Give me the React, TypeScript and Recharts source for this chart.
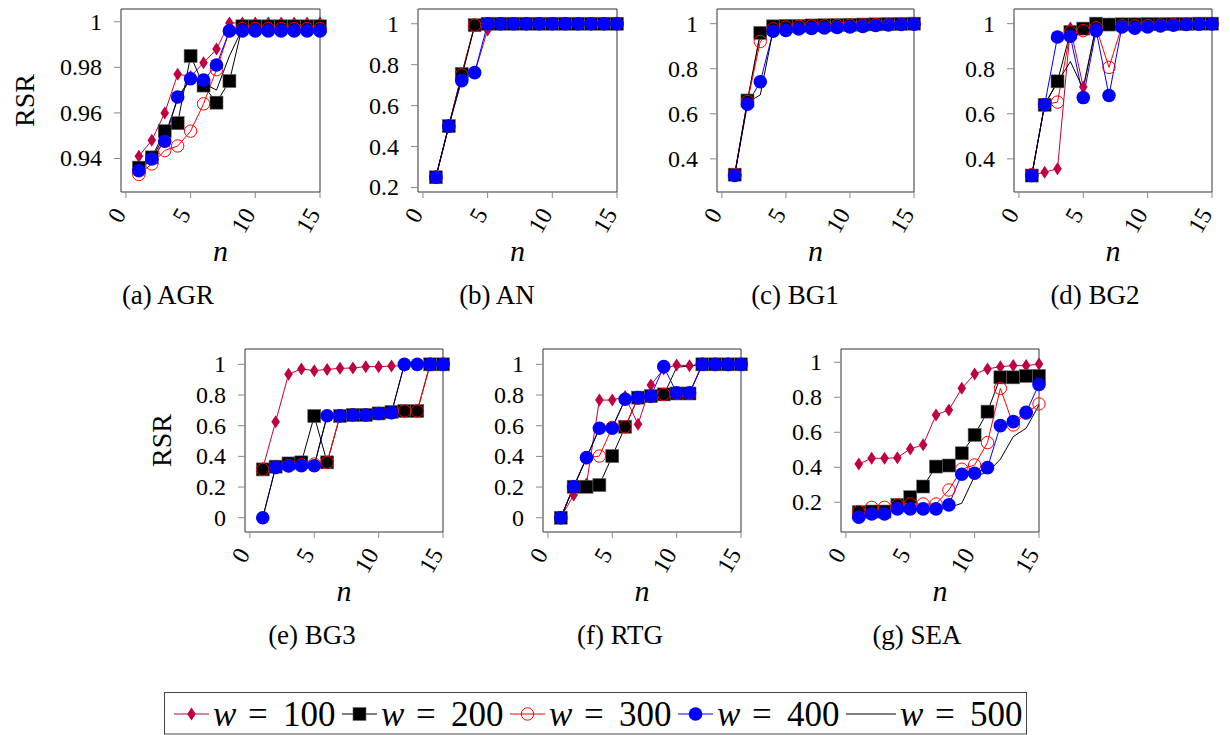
import React from 'react';
import { LineChart, Line, XAxis, YAxis, ReferenceArea } from 'recharts';

const FONT = '"Liberation Serif", "Times New Roman", serif';

const nValues = [1, 2, 3, 4, 5, 6, 7, 8, 9, 10, 11, 12, 13, 14, 15];
const xTicks = [0, 5, 10, 15];
const xDomain = [-0.38, 15];

// (a) AGR
const agrW100 = [0.941, 0.948, 0.96, 0.977, 0.976, 0.982, 0.988, 0.9995, 0.9995, 0.9995, 0.9995, 0.9995, 0.9995, 0.9995, 0.9995];
const agrW200 = [0.936, 0.9405, 0.952, 0.9555, 0.985, 0.972, 0.9645, 0.974, 0.998, 0.998, 0.998, 0.998, 0.998, 0.998, 0.998];
const agrW300 = [0.933, 0.9376, 0.9435, 0.9455, 0.952, 0.964, 0.979, 0.996, 0.997, 0.997, 0.997, 0.997, 0.997, 0.997, 0.997];
const agrW400 = [0.9347, 0.9398, 0.9476, 0.967, 0.975, 0.9744, 0.981, 0.996, 0.996, 0.996, 0.996, 0.996, 0.996, 0.996, 0.996];
const agrW500 = [0.935, 0.94, 0.95, 0.966, 0.975, 0.973, 0.97, 0.985, 0.997, 0.997, 0.997, 0.997, 0.997, 0.997, 0.997];

// (b) AN
const anW100 = [0.25, 0.5, 0.745, 0.76, 0.97, 1, 1, 1, 1, 1, 1, 1, 1, 1, 1];
const anW200 = [0.25, 0.5, 0.755, 0.993, 1, 1, 1, 1, 1, 1, 1, 1, 1, 1, 1];
const anW300 = [0.25, 0.5, 0.75, 0.993, 1, 1, 1, 1, 1, 1, 1, 1, 1, 1, 1];
const anW400 = [0.25, 0.5, 0.722, 0.761, 1, 1, 1, 1, 1, 1, 1, 1, 1, 1, 1];
const anW500 = [0.25, 0.5, 0.74, 0.99, 1, 1, 1, 1, 1, 1, 1, 1, 1, 1, 1];

// (c) BG1
const bg1W100 = [0.33, 0.66, 0.955, 0.988, 0.99, 0.992, 0.993, 0.994, 0.995, 0.996, 0.997, 0.998, 0.999, 1, 1];
const bg1W200 = [0.33, 0.659, 0.959, 0.988, 0.99, 0.99, 0.992, 0.993, 0.994, 0.995, 0.996, 0.997, 0.998, 0.999, 1];
const bg1W300 = [0.33, 0.655, 0.921, 0.977, 0.985, 0.988, 0.99, 0.991, 0.992, 0.993, 0.994, 0.996, 0.997, 0.998, 0.999];
const bg1W400 = [0.326, 0.643, 0.742, 0.966, 0.97, 0.976, 0.979, 0.981, 0.983, 0.985, 0.988, 0.992, 0.994, 0.996, 0.998];
const bg1W500 = [0.33, 0.65, 0.684, 0.97, 0.975, 0.98, 0.982, 0.984, 0.986, 0.988, 0.99, 0.993, 0.995, 0.997, 0.999];

// (d) BG2
const bg2W100 = [0.326, 0.341, 0.356, 0.981, 0.719, 0.99, 1, 1, 1, 1, 1, 1, 1, 1, 1];
const bg2W200 = [0.326, 0.64, 0.744, 0.963, 0.978, 1, 0.996, 0.997, 0.997, 0.998, 0.998, 0.999, 0.999, 1, 1];
const bg2W300 = [0.33, 0.64, 0.652, 0.963, 0.969, 0.982, 0.806, 0.99, 0.99, 0.992, 0.994, 0.996, 0.998, 0.999, 1];
const bg2W400 = [0.326, 0.64, 0.941, 0.944, 0.672, 0.969, 0.681, 0.985, 0.98, 0.985, 0.99, 0.993, 0.996, 0.998, 0.999];
const bg2W500 = [0.326, 0.64, 0.74, 0.832, 0.71, 0.99, 0.99, 0.99, 0.99, 0.992, 0.994, 0.996, 0.998, 0.999, 1];

// (e) BG3
const bg3W100 = [0.322, 0.626, 0.935, 0.97, 0.959, 0.967, 0.974, 0.976, 0.985, 0.985, 0.989, 0.99, 1, 1, 1];
const bg3W200 = [0.315, 0.333, 0.354, 0.361, 0.663, 0.361, 0.663, 0.67, 0.67, 0.68, 0.69, 0.696, 0.696, 1, 1];
const bg3W300 = [0.315, 0.33, 0.34, 0.345, 0.35, 0.361, 0.665, 0.67, 0.67, 0.68, 0.685, 0.696, 0.696, 1, 1];
const bg3W400 = [0, 0.328, 0.337, 0.339, 0.339, 0.665, 0.665, 0.67, 0.67, 0.68, 0.685, 1, 1, 1, 1];
const bg3W500 = [0, 0.33, 0.34, 0.34, 0.34, 0.665, 0.67, 0.67, 0.67, 0.68, 0.685, 1, 1, 1, 1];

// (f) RTG
const rtgW100 = [0, 0.148, 0.22, 0.767, 0.767, 0.79, 0.609, 0.865, 0.97, 0.996, 0.99, 1, 1, 1, 1];
const rtgW200 = [0, 0.202, 0.202, 0.213, 0.402, 0.593, 0.783, 0.793, 0.804, 0.81, 0.81, 1, 1, 1, 1];
const rtgW300 = [0, 0.2, 0.39, 0.402, 0.589, 0.593, 0.78, 0.79, 0.804, 0.81, 0.81, 1, 1, 1, 1];
const rtgW400 = [0, 0.202, 0.393, 0.583, 0.583, 0.772, 0.783, 0.793, 0.985, 0.815, 0.815, 1, 1, 1, 1];
const rtgW500 = [0, 0.2, 0.39, 0.58, 0.59, 0.77, 0.78, 0.79, 0.8, 0.98, 0.99, 1, 1, 1, 1];

// (g) SEA
const seaW100 = [0.419, 0.451, 0.451, 0.455, 0.505, 0.528, 0.699, 0.728, 0.851, 0.933, 0.962, 0.975, 0.981, 0.981, 0.99];
const seaW200 = [0.143, 0.147, 0.147, 0.185, 0.229, 0.29, 0.404, 0.41, 0.48, 0.585, 0.718, 0.914, 0.914, 0.922, 0.922];
const seaW300 = [0.147, 0.171, 0.171, 0.185, 0.19, 0.19, 0.19, 0.27, 0.389, 0.413, 0.541, 0.851, 0.642, 0.709, 0.762];
const seaW400 = [0.114, 0.133, 0.133, 0.162, 0.162, 0.162, 0.162, 0.185, 0.36, 0.366, 0.398, 0.638, 0.661, 0.714, 0.874];
const seaW500 = [0.13, 0.14, 0.14, 0.16, 0.16, 0.16, 0.16, 0.17, 0.194, 0.35, 0.37, 0.446, 0.575, 0.623, 0.756];

const SERIES = [
  { key: 'w100', label: '100', color: '#c0003f', marker: 'diamond' },
  { key: 'w200', label: '200', color: '#000000', marker: 'square' },
  { key: 'w300', label: '300', color: '#ff0000', marker: 'circle' },
  { key: 'w400', label: '400', color: '#0000ff', marker: 'dot' },
  { key: 'w500', label: '500', color: '#000000', marker: 'none' },
];

const PANELS = [
  { id: 'a', name: 'AGR', left: 121, top: 9, width: 199, height: 183, yDomain: [0.9253, 1.0056], yTicks: [0.94, 0.96, 0.98, 1], data: [agrW100, agrW200, agrW300, agrW400, agrW500], rsrX: 24, captionX: 168 },
  { id: 'b', name: 'AN', left: 418, top: 9, width: 199, height: 183, yDomain: [0.178, 1.072], yTicks: [0.2, 0.4, 0.6, 0.8, 1], data: [anW100, anW200, anW300, anW400, anW500], rsrX: 0, captionX: 497 },
  { id: 'c', name: 'BG1', left: 717, top: 9, width: 197, height: 183, yDomain: [0.253, 1.065], yTicks: [0.4, 0.6, 0.8, 1], data: [bg1W100, bg1W200, bg1W300, bg1W400, bg1W500], rsrX: 0, captionX: 795 },
  { id: 'd', name: 'BG2', left: 1014, top: 9, width: 198, height: 183, yDomain: [0.253, 1.065], yTicks: [0.4, 0.6, 0.8, 1], data: [bg2W100, bg2W200, bg2W300, bg2W400, bg2W500], rsrX: 0, captionX: 1095 },
  { id: 'e', name: 'BG3', left: 245, top: 349, width: 198, height: 183, yDomain: [-0.093, 1.1], yTicks: [0, 0.2, 0.4, 0.6, 0.8, 1], data: [bg3W100, bg3W200, bg3W300, bg3W400, bg3W500], rsrX: 161, captionX: 312 },
  { id: 'f', name: 'RTG', left: 543, top: 349, width: 198, height: 183, yDomain: [-0.093, 1.1], yTicks: [0, 0.2, 0.4, 0.6, 0.8, 1], data: [rtgW100, rtgW200, rtgW300, rtgW400, rtgW500], rsrX: 0, captionX: 620 },
  { id: 'g', name: 'SEA', left: 841, top: 349, width: 198, height: 183, yDomain: [0.03, 1.076], yTicks: [0.2, 0.4, 0.6, 0.8, 1], data: [seaW100, seaW200, seaW300, seaW400, seaW500], rsrX: 0, captionX: 917 },
];

const PAD_L = 120;
const PAD_T = 12;
const PAD_R = 14;
const PAD_B = 50;

function drawMarker(kind: string, color: string, p: any, k: string) {
  const { cx, cy } = p;
  if (cx == null || cy == null) return <g key={k} />;
  if (kind === 'diamond') {
    return <polygon key={k} points={`${cx},${cy - 6.5} ${cx + 4.3},${cy} ${cx},${cy + 6.5} ${cx - 4.3},${cy}`} fill={color} />;
  }
  if (kind === 'square') {
    return <rect key={k} x={cx - 6.5} y={cy - 6.5} width={13} height={13} fill="#000" stroke="#666" strokeWidth={0.6} />;
  }
  if (kind === 'circle') {
    return <circle key={k} cx={cx} cy={cy} r={6.2} fill="none" stroke={color} strokeWidth={1} />;
  }
  return <circle key={k} cx={cx} cy={cy} r={6.8} fill={color} />;
}

const XTick = (props: any) => {
  const { x, y, payload } = props;
  const ax = x - 6;
  const ay = y + 10;
  return (
    <text x={ax} y={ay} transform={`rotate(-60 ${ax} ${ay})`} textAnchor="end" dominantBaseline="central"
      fontSize={24} style={{ fontFamily: FONT }} fill="#000">
      {payload.value}
    </text>
  );
};

const YTick = (props: any) => {
  const { x, y, payload } = props;
  return (
    <text x={x} y={y} textAnchor="end" dominantBaseline="central" fontSize={24} style={{ fontFamily: FONT }} fill="#000">
      {payload.value}
    </text>
  );
};

const Panel = ({ p }: { p: any }) => {
  const rows = nValues.map((n, i) => {
    const row: any = { n };
    SERIES.forEach((s, j) => { row[s.key] = p.data[j][i]; });
    return row;
  });
  return (
    <div style={{ position: 'absolute', left: p.left - PAD_L, top: p.top - PAD_T }}>
      <LineChart width={p.width + PAD_L + PAD_R} height={p.height + PAD_T + PAD_B} data={rows} margin={{ top: PAD_T, right: PAD_R, left: 0, bottom: 0 }}>
        <XAxis dataKey="n" type="number" domain={xDomain} ticks={xTicks} interval={0} axisLine={false}
          tickSize={6} tickLine={{ stroke: '#888' }} tick={<XTick />} height={PAD_B} />
        <YAxis type="number" domain={p.yDomain} ticks={p.yTicks} interval={0} width={PAD_L} axisLine={false}
          tickSize={7} tickMargin={12} tickLine={{ stroke: '#888' }} tick={<YTick />} />
        <ReferenceArea x1={xDomain[0]} x2={xDomain[1]} y1={p.yDomain[0]} y2={p.yDomain[1]} fill="none" fillOpacity={0}
          stroke="#333" strokeWidth={1} strokeOpacity={1} ifOverflow="visible" />
        {SERIES.map((s) => (
          <Line key={s.key} dataKey={s.key} type="linear" stroke={s.color} strokeWidth={1}
            dot={s.marker === 'none' ? false : (dp: any) => drawMarker(s.marker, s.color, dp, `${s.key}-${dp.index}`)}
            activeDot={false} isAnimationActive={false} />
        ))}
      </LineChart>
    </div>
  );
};

const LegendBox = () => {
  const starts = [10, 178, 346, 514, 682];
  const lens = [35, 35, 35, 35, 50];
  return (
    <svg width={864} height={43} style={{ position: 'absolute', left: 164, top: 692 }}>
      <rect x={0.5} y={0.5} width={862} height={41.5} fill="#fff" stroke="#444" strokeWidth={1} />
      {SERIES.map((s, i) => {
        const sx = starts[i];
        const len = lens[i];
        const mx = sx + len / 2;
        const my = 22;
        const tx = sx + len + 4;
        return (
          <g key={s.key}>
            <line x1={sx} y1={my} x2={sx + len} y2={my} stroke={s.color} strokeWidth={1} />
            {s.marker !== 'none' && drawMarker(s.marker, s.color, { cx: mx, cy: my }, `lg-${s.key}`)}
            <text y={34} fontSize={35} style={{ fontFamily: FONT }} fill="#000">
              <tspan x={tx} fontStyle="italic">w</tspan>
              <tspan x={tx + 35}>=</tspan>
              <tspan x={tx + 70}>{s.label}</tspan>
            </text>
          </g>
        );
      })}
    </svg>
  );
};

const App = () => {
  return (
    <div style={{ position: 'absolute', left: 0, top: 0, width: 1230, height: 735, background: '#fff', overflow: 'hidden', fontFamily: FONT }}>
      {PANELS.map((p) => <Panel key={p.id} p={p} />)}
      <svg width={1230} height={735} style={{ position: 'absolute', left: 0, top: 0, pointerEvents: 'none', fontFamily: FONT }}>
        {PANELS.map((p) => {
          const cx = p.left + p.width / 2;
          const bottom = p.top + p.height;
          const cy = p.top + p.height / 2;
          return (
            <g key={p.id}>
              {p.rsrX > 0 && (
                <text x={p.rsrX} y={cy} transform={`rotate(-90 ${p.rsrX} ${cy})`} textAnchor="middle" dominantBaseline="central" fontSize={28} fill="#000">RSR</text>
              )}
              <text x={cx} y={bottom + 69} textAnchor="middle" fontSize={30} fontStyle="italic" fill="#000">n</text>
              <text x={p.captionX} y={bottom + 112} textAnchor="middle" fontSize={27} fill="#000">{`(${p.id}) ${p.name}`}</text>
            </g>
          );
        })}
      </svg>
      <LegendBox />
    </div>
  );
};

export default App;
